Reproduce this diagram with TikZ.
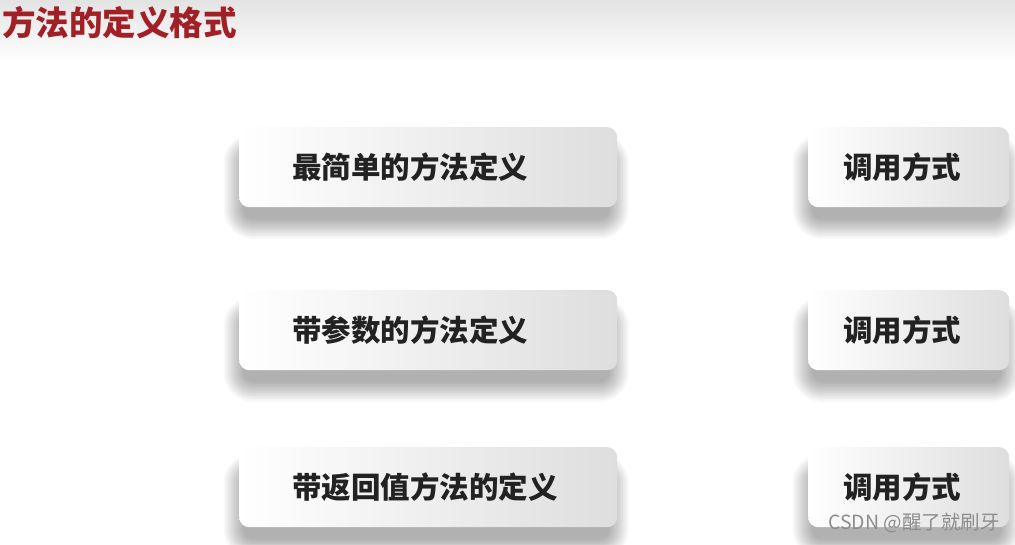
\documentclass[tikz,border=0pt]{standalone}
\usepackage{fontspec}
\setmainfont{Noto Sans CJK SC}
\usetikzlibrary{calc}
\pgfdeclarelayer{bgzero}
\pgfdeclarelayer{shadowlayer}
\pgfsetlayers{bgzero,shadowlayer,main}
\definecolor{titlered}{RGB}{160,32,38}
\definecolor{boxtext}{RGB}{34,34,34}
\tikzset{
  card/.style={anchor=north west, rounded corners=10pt, minimum height=80pt,
    left color=white, right color=black!13, draw=none,
    font=\bfseries\fontsize{29.5pt}{32pt}\selectfont, text=boxtext,
    align=left, inner ysep=0pt},
  defcard/.style={card, minimum width=378pt, inner xsep=53pt, text width=272pt},
  callcard/.style={card, minimum width=201pt, inner xsep=35pt, text width=131pt},
  shadowring/.style={fill=black, fill opacity=0.024, draw=none},
}
\newcommand{\cardshadow}[1]{%
  \foreach \r in {0,1.5,...,19.5}{%
    \fill[shadowring, rounded corners={10pt+\r pt}]
      ($(#1.north west)+(4-\r,26-\r)$) rectangle ($(#1.south east)+(-8+\r,12+\r)$);
  }%
}
\begin{document}
\begin{tikzpicture}[x=1pt,y=-1pt]
\useasboundingbox (0,0) rectangle (1015,544);
\begin{pgfonlayer}{bgzero}
\fill[white] (0,0) rectangle (1015,544);
\shade[top color=black!11, bottom color=white] (0,0) rectangle (1015,62);
\end{pgfonlayer}
\node[anchor=west, text=titlered, font=\bfseries\fontsize{33.5pt}{35pt}\selectfont, inner sep=0pt] (title) at (2,23) {方法的定义格式};

\node[defcard] (d1) at (239,127) {最简单的方法定义};
\node[defcard] (d2) at (239,290) {带参数的方法定义};
\node[defcard] (d3) at (239,447) {带返回值方法的定义};

\node[callcard] (c1) at (808,127) {调用方式};
\node[callcard] (c2) at (808,290) {调用方式};
\node[callcard] (c3) at (808,447) {调用方式};

\begin{pgfonlayer}{shadowlayer}
\foreach \n in {d1,d2,d3,c1,c2,c3}{\cardshadow{\n}}
\end{pgfonlayer}

\node[anchor=east, text=black!45, font=\fontsize{19.5pt}{21pt}\selectfont, inner sep=0pt] (wm) at (1000,523) {CSDN @醒了就刷牙};
\end{tikzpicture}
\end{document}
